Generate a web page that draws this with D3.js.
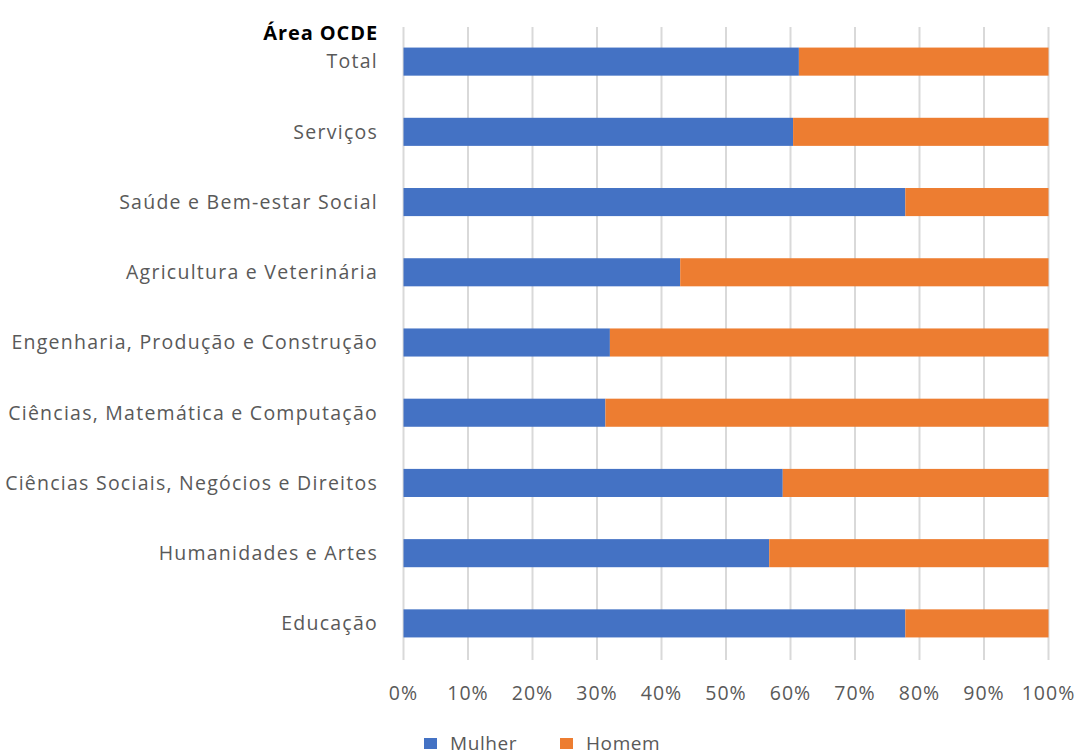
<!DOCTYPE html>
<html><head><meta charset="utf-8">
<script src="https://cdn.jsdelivr.net/npm/d3@7"></script>
<style>body{margin:0;background:#fff}svg{display:block}</style>
</head><body><svg id="c" width="1080" height="756"></svg>
<script>
const categories = ["Total","Serviços","Saúde e Bem-estar Social","Agricultura e Veterinária","Engenharia, Produção e Construção","Ciências, Matemática e Computação","Ciências Sociais, Negócios e Direitos","Humanidades e Artes","Educação"];
const mulher = [61.3, 60.4, 77.8, 42.9, 32.0, 31.3, 58.8, 56.7, 77.8];
const homem = mulher.map(v => 100 - v);
const seriesNames = ["Mulher","Homem"];
const seriesColors = ["#4472C4","#ED7D31"];
const tickValues = [0,10,20,30,40,50,60,70,80,90,100];
const title = "Área OCDE";

const svg = d3.select("#c");
const font = "'Open Sans', sans-serif";
const x = d3.scaleLinear().domain([0,100]).range([403.5,1048.5]);
const y = d3.scaleBand().domain(categories).range([26.5,658.5]).paddingInner(0.6).paddingOuter(0.3);

const rows = categories.map((c,i)=>({cat:c, Mulher:mulher[i], Homem:homem[i]}));
const stacked = d3.stack().keys(seriesNames)(rows);

// gridlines
svg.append("g").selectAll("line").data(tickValues).join("line")
  .attr("x1",d=>x(d)).attr("x2",d=>x(d)).attr("y1",27).attr("y2",660)
  .attr("stroke","#D9D9D9").attr("stroke-width",2);

// bars
svg.append("g").selectAll("g").data(stacked).join("g")
  .attr("fill",(d,i)=>seriesColors[i])
  .selectAll("rect").data(d=>d).join("rect")
  .attr("x",d=>x(d[0])).attr("width",d=>x(d[1])-x(d[0]))
  .attr("y",d=>y(d.data.cat)).attr("height",y.bandwidth());

// y labels
svg.append("g").selectAll("text").data(categories).join("text")
  .attr("x",378).attr("y",d=>y(d)+y.bandwidth()/2).attr("dy","0.35em")
  .attr("text-anchor","end").attr("font-family",font).attr("font-size",19.5)
  .attr("letter-spacing","1.25px")
  .attr("fill","#595959").text(d=>d);

svg.append("text").attr("x",378).attr("y",40).attr("text-anchor","end")
  .attr("font-family",font).attr("font-size",20).attr("font-weight","bold")
  .attr("letter-spacing","0.9px")
  .attr("fill","#000").text(title);

// x tick labels
svg.append("g").selectAll("text").data(tickValues).join("text")
  .attr("x",d=>x(d)).attr("y",700).attr("text-anchor","middle")
  .attr("font-family",font).attr("font-size",19.5).attr("letter-spacing","1px")
  .attr("fill","#595959").text(d=>d+"%");

// legend
const lx = [424, 560];
const lg = svg.append("g").selectAll("g").data(seriesNames).join("g")
  .attr("transform",(d,i)=>`translate(${lx[i]},738)`);
lg.append("rect").attr("width",13).attr("height",11).attr("fill",(d,i)=>seriesColors[i]);
lg.append("text").attr("x",26).attr("y",12).attr("font-family",font).attr("font-size",19)
  .attr("letter-spacing","0.6px")
  .attr("fill","#595959").text(d=>d);
</script></body></html>
